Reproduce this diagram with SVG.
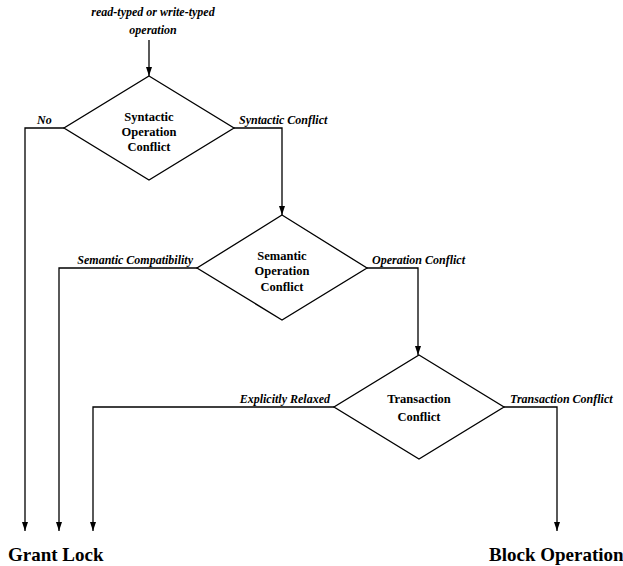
<svg xmlns="http://www.w3.org/2000/svg" width="623" height="566" viewBox="0 0 623 566">
<defs>
<marker id="arr" markerWidth="10" markerHeight="8" refX="9" refY="4" orient="auto" markerUnits="userSpaceOnUse" viewBox="0 0 10 8">
<path d="M0,1 L9,4 L0,7 Z" fill="#000"/>
</marker>
<style>
.shape{fill:#fff;stroke:#000;stroke-width:1.3}
.edge{fill:none;stroke:#000;stroke-width:1.3}
.node{font-family:"Liberation Serif","Times New Roman",serif;font-weight:bold;font-size:12.5px;text-anchor:middle;fill:#000}
.lbl{font-family:"Liberation Serif","Times New Roman",serif;font-weight:bold;font-style:italic;font-size:12px;fill:#000}
.end{font-family:"Liberation Serif","Times New Roman",serif;font-weight:bold;font-size:19px;fill:#000}
</style>
</defs>
<rect width="623" height="566" fill="#fff"/>
<g id="connectors">
<path class="edge" d="M149,40 V76" marker-end="url(#arr)"/>
<path class="edge" d="M64,128 H25 V531" marker-end="url(#arr)"/>
<path class="edge" d="M234,128 H282 V215" marker-end="url(#arr)"/>
<path class="edge" d="M197,268 H59 V531" marker-end="url(#arr)"/>
<path class="edge" d="M367,268 H418 V355" marker-end="url(#arr)"/>
<path class="edge" d="M334,407 H93 V531" marker-end="url(#arr)"/>
<path class="edge" d="M504,407 H557 V531" marker-end="url(#arr)"/>
</g>
<g id="labels">
<text class="lbl" x="153" y="16" text-anchor="middle">read-typed or write-typed</text>
<text class="lbl" x="153" y="34" text-anchor="middle">operation</text>
<text class="lbl" x="37" y="124">No</text>
<text class="lbl" x="239" y="124">Syntactic Conflict</text>
<text class="lbl" x="193" y="264" text-anchor="end">Semantic Compatibility</text>
<text class="lbl" x="372" y="264">Operation Conflict</text>
<text class="lbl" x="330" y="403" text-anchor="end">Explicitly Relaxed</text>
<text class="lbl" x="510" y="403">Transaction Conflict</text>
</g>
<g id="syntactic">
<polygon class="shape" points="149,76 234,128 149,180 64,128"/>
<text class="node" x="149" y="121">Syntactic</text>
<text class="node" x="149" y="136">Operation</text>
<text class="node" x="149" y="151">Conflict</text>
</g>
<g id="semantic">
<polygon class="shape" points="282,215 367,268 282,320 197,268"/>
<text class="node" x="282" y="260">Semantic</text>
<text class="node" x="282" y="275">Operation</text>
<text class="node" x="282" y="291">Conflict</text>
</g>
<g id="transaction">
<polygon class="shape" points="419,355 504,407 419,459 334,407"/>
<text class="node" x="419" y="403">Transaction</text>
<text class="node" x="419" y="421">Conflict</text>
</g>
<g id="grant">
<text class="end" x="8" y="561">Grant Lock</text>
</g>
<g id="block">
<text class="end" x="489" y="561">Block Operation</text>
</g>
</svg>
